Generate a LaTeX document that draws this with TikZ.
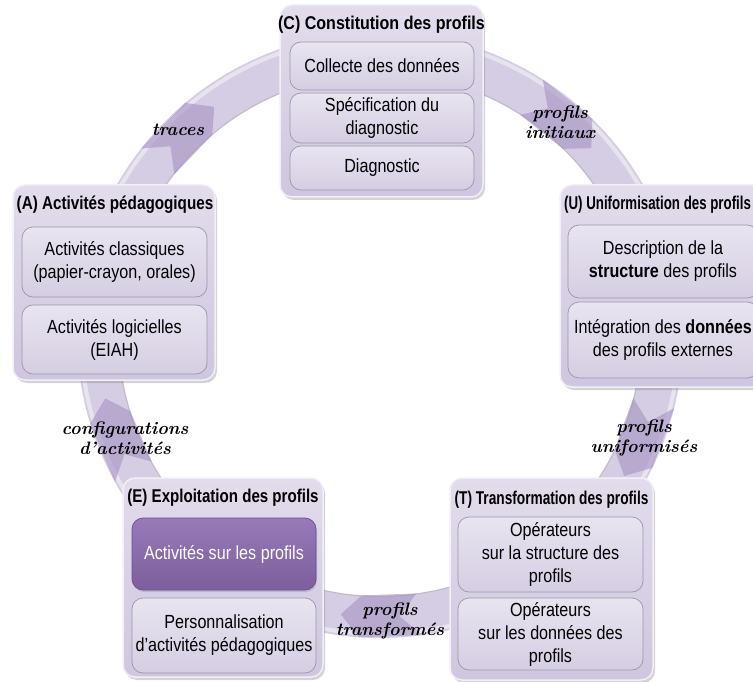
\documentclass[tikz,border=0pt]{standalone}
\usepackage{fontspec}
\newfontfamily\narrowsans[FakeStretch=0.85]{Liberation Sans}
\usetikzlibrary{shadows}
\definecolor{otop}{HTML}{E2DCEC}
\definecolor{obot}{HTML}{CFC6DF}
\definecolor{obord}{HTML}{F2EFF7}
\definecolor{itop}{HTML}{E8E4F0}
\definecolor{ibot}{HTML}{D5CEE3}
\definecolor{ibord}{HTML}{9C96A8}
\definecolor{htop}{HTML}{977AB6}
\definecolor{hbot}{HTML}{7D5E9E}
\definecolor{hbord}{HTML}{6C4F8E}
\definecolor{ringc}{HTML}{D5CDE3}
\definecolor{chevc}{HTML}{A592C2}
\begin{document}
\begin{tikzpicture}[x=1pt,y=-1pt,
  outerbox/.style={draw=obord, line width=1.5pt, rounded corners=12pt,
    top color=otop, bottom color=obot, inner sep=0pt,
    drop shadow={shadow xshift=2pt, shadow yshift=-3pt, opacity=0.35}},
  innerbox/.style={draw=ibord, line width=0.7pt, rounded corners=11pt,
    top color=itop, bottom color=ibot, inner sep=0pt, align=center,
    font=\narrowsans\fontsize{19}{23}\selectfont},
  hibox/.style={draw=hbord, line width=0.7pt, rounded corners=11pt,
    top color=htop, bottom color=hbot, inner sep=0pt, align=center,
    text=white, font=\narrowsans\fontsize{19}{23}\selectfont,
    drop shadow={shadow xshift=1pt, shadow yshift=-2pt, opacity=0.3}},
  titletext/.style={font=\narrowsans\bfseries\fontsize{18.5}{22}\selectfont, inner sep=0pt},
  flowlabel/.style={font=\rmfamily\bfseries\itshape\fontsize{18}{20}\selectfont, align=center, inner sep=0pt},
  chev/.style={fill=chevc, opacity=0.6}
]
\useasboundingbox (0,0) rectangle (753,682);
\coordinate (O) at (380,335);
% ring
\draw[ringc, line width=42pt] (O) circle[x radius=282, y radius=282];
\draw[white, opacity=0.45, line width=4pt] (O) circle[x radius=299, y radius=299];
\draw[black!40, opacity=0.35, line width=1.2pt] (O) circle[x radius=261.5, y radius=261.5];
% chevrons
\foreach \a in {226,310.5,382,450,519}{
  \fill[chev, shift={(380,335)}] (\a-8:261) -- (\a+4:261) -- (\a+8:282) -- (\a+4:303) -- (\a-8:303) -- (\a-4:282) -- cycle;
}
% C box
\node[outerbox, minimum width=203pt, minimum height=192pt] (C) at (381.5,101) {};
\node[titletext] (Ct) at (381.5,25) {\scalebox{1.02}[1]{(C) Constitution des profils}};
\node[innerbox, minimum width=184pt, minimum height=48pt] (C1) at (382,66) {Collecte des données};
\node[innerbox, minimum width=184pt, minimum height=50pt] (C2) at (382,118) {Spécification du\\diagnostic};
\node[innerbox, minimum width=184pt, minimum height=44pt] (C3) at (382,168) {Diagnostic};
% A box
\node[outerbox, minimum width=202pt, minimum height=195pt] (A) at (114,282.5) {};
\node[titletext] (At) at (115,205) {\scalebox{0.97}[1]{(A) Activités pédagogiques}};
\node[innerbox, minimum width=185pt, minimum height=70pt] (A1) at (114.5,262) {Activités classiques\\(papier-crayon, orales)};
\node[innerbox, minimum width=185pt, minimum height=69pt] (A2) at (114.5,339.5) {Activités logicielles\\(EIAH)};
% U box
\node[outerbox, minimum width=206pt, minimum height=202pt] (U) at (663,286) {};
\node[titletext, anchor=west] (Ut) at (564,205) {\scalebox{0.845}[1]{(U) Uniformisation des profils}};
\node[innerbox, minimum width=190pt, minimum height=73pt] (U1) at (663,261.5) {Description de la\\\textbf{structure} des profils};
\node[innerbox, minimum width=190pt, minimum height=76pt] (U2) at (663,340) {Intégration des \textbf{données}\\des profils externes};
% T box
\node[outerbox, minimum width=203pt, minimum height=202pt] (T) at (551.5,579) {};
\node[titletext] (Tt) at (551.5,500) {\scalebox{0.87}[1]{(T) Transformation des profils}};
\node[innerbox, minimum width=185pt, minimum height=75pt] (T1) at (550.5,554.5) {Opérateurs\\sur la structure des\\profils};
\node[innerbox, minimum width=185pt, minimum height=72pt] (T2) at (550.5,634) {Opérateurs\\sur les données des\\profils};
% E box
\node[outerbox, minimum width=200pt, minimum height=199pt] (E) at (223,577.5) {};
\node[titletext] (Et) at (223,498) {\scalebox{0.96}[1]{(E) Exploitation des profils}};
\node[hibox, minimum width=184pt, minimum height=72pt] (E1) at (224,554) {Activités sur les profils};
\node[innerbox, minimum width=184pt, minimum height=75pt] (E2) at (224,635.5) {Personnalisation\\d’activités pédagogiques};
% flow labels
\node[flowlabel] (L1) at (178,130) {traces};
\node[flowlabel] (L2) at (560,122) {profils\\initiaux};
\node[flowlabel] (L3) at (644,438) {profils\\uniformisés};
\node[flowlabel] (L4) at (390,621) {profils\\transformés};
\node[flowlabel] (L5) at (125,438) {configurations\\d’activités};
\end{tikzpicture}
\end{document}
